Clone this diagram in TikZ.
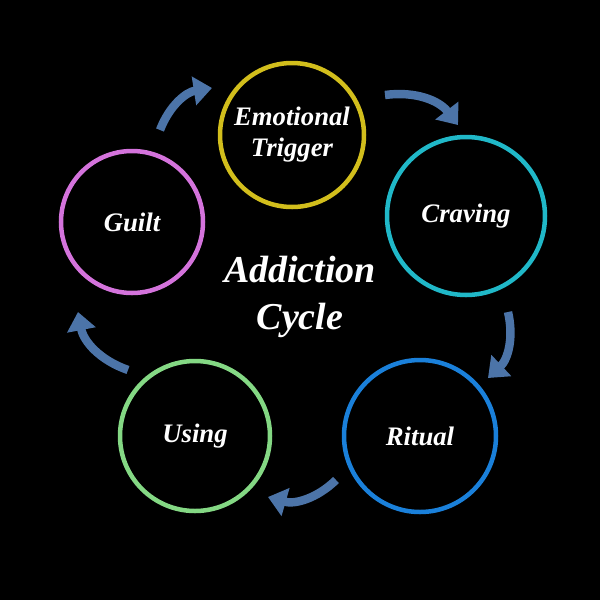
\documentclass[tikz,border=0pt]{standalone}
\usepackage{fontspec}
\setmainfont{Liberation Serif}
\usetikzlibrary{arrows.meta}
\definecolor{ringyellow}{HTML}{D2BE1C}
\definecolor{ringcyan}{HTML}{20B8C8}
\definecolor{ringblue}{HTML}{1A80DA}
\definecolor{ringgreen}{HTML}{84D884}
\definecolor{ringpink}{HTML}{D473DC}
\definecolor{arrowblue}{HTML}{4C74A8}
\tikzset{
  ring/.style={circle, line width=3.2pt, inner sep=0, text=white, font=\fontsize{19}{22}\selectfont\bfseries\itshape, align=center},
  cyclearrow/.style={arrowblue, line width=6pt, -{Triangle[length=13pt, width=20pt]}}
}
\begin{document}
\begin{tikzpicture}[x=0.025cm, y=-0.025cm]

\fill [black] (0,0) rectangle (600,600);

\node [ring, draw=ringyellow, minimum size=144*0.025cm] (trigger) at (292,135) {Emotional\\Trigger};
\node [ring, draw=ringcyan,   minimum size=158*0.025cm] (craving) at (466,216) {Craving};
\node [ring, draw=ringblue,   minimum size=152*0.025cm] (ritual)  at (420,436) {Ritual};
\node [ring, draw=ringgreen,  minimum size=150*0.025cm] (using)   at (195,436) {Using};
\node [ring, draw=ringpink,   minimum size=142*0.025cm] (guilt)   at (132,222) {Guilt};

\node [text=white, font=\fontsize{27}{33}\selectfont\bfseries\itshape, align=center] (title) at (300,297) {Addiction\\Cycle};

\coordinate (a1) at (385,95);  \coordinate (b1) at (458,125);
\coordinate (a2) at (508,312); \coordinate (b2) at (488,378);
\coordinate (a3) at (336,480); \coordinate (b3) at (268,497);
\coordinate (a4) at (128,370); \coordinate (b4) at (78,312);
\coordinate (a5) at (160,130); \coordinate (b5) at (212,88);

\draw [cyclearrow] (a1) to [bend left=30] (b1);
\draw [cyclearrow] (a2) to [bend left=30] (b2);
\draw [cyclearrow] (a3) to [bend left=30] (b3);
\draw [cyclearrow] (a4) to [bend left=30] (b4);
\draw [cyclearrow] (a5) to [bend left=30] (b5);

\end{tikzpicture}
\end{document}
